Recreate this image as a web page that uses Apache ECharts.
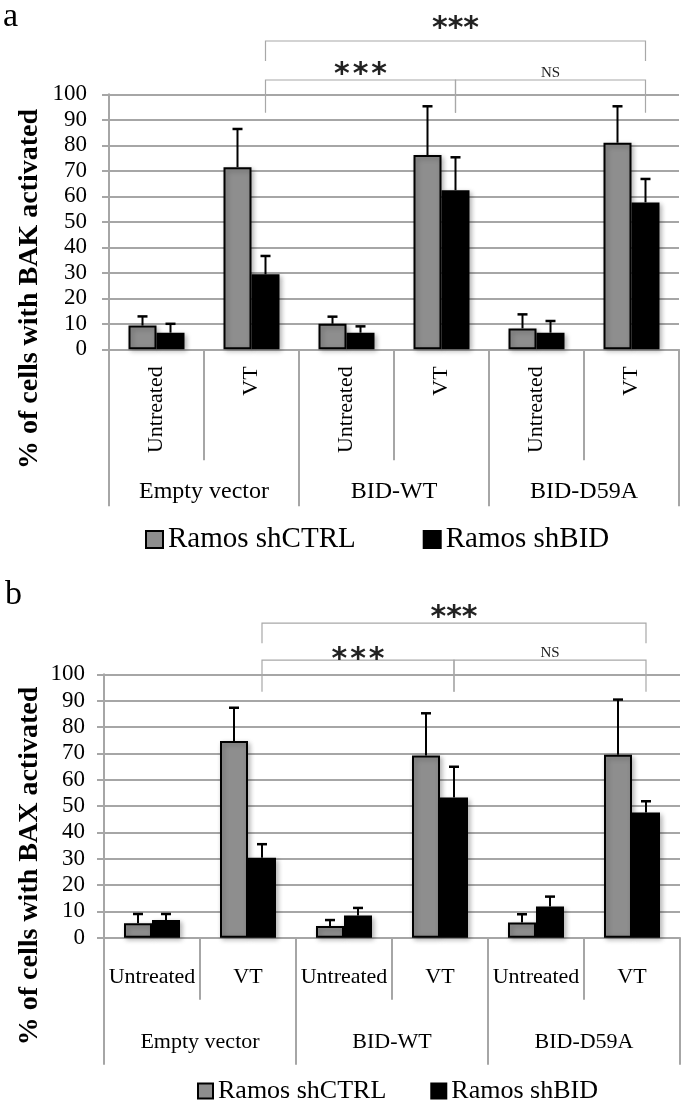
<!DOCTYPE html>
<html>
<head>
<meta charset="utf-8">
<script src="https://cdn.jsdelivr.net/npm/echarts@6/dist/echarts.min.js"></script>
<style>
html,body{margin:0;padding:0;background:#fff;}
#chart{width:685px;height:1103px;}
</style>
</head>
<body>
<div id="chart"></div>
<script>
// ---------- data ----------
const categories = ['Untreated', 'VT', 'Untreated', 'VT', 'Untreated', 'VT'];
const groups = ['Empty vector', 'BID-WT', 'BID-D59A'];
const seriesNames = ['Ramos shCTRL', 'Ramos shBID'];
const yTicks = [0, 100, 10]; // min, max, interval

// panel a: BAK
const bakCtrl    = [9.3, 71.4, 10.0, 76.2, 8.2, 81.0];
const bakCtrlErr = [3.6, 15.0, 2.8, 19.1, 5.5, 14.3];
const bakBid     = [6.5, 29.4, 6.5, 62.4, 6.5, 57.6];
const bakBidErr  = [3.5, 7.2, 2.5, 12.9, 4.6, 9.2];

// panel b: BAX
const baxCtrl    = [5.5, 74.7, 4.4, 69.2, 5.8, 69.5];
const baxCtrlErr = [3.5, 12.6, 2.3, 16.0, 3.1, 20.9];
const baxBid     = [6.7, 30.4, 8.4, 53.2, 11.8, 47.5];
const baxBidErr  = [2.3, 5.1, 2.9, 11.7, 3.8, 4.3];

// significance brackets: [fromCategory, toCategory, bracketY, dropY, labelY]
const bracketsA = [[1, 5, 120.9, 113.1, 128.1], [1, 3, 105.6, 92.8, 110.2], [3, 5, 105.6, 92.8, 108.5]];
const bracketsB = [[1, 5, 119.4, 111.8, 123.8], [1, 3, 105.4, 93.4, 108.0], [3, 5, 105.4, 93.4, 108.0]];
const bracketLabels = ['***', '*\u200A*\u200A*', 'NS'];

// ---------- styles ----------
const SERIF = '"Liberation Serif", "Times New Roman", serif';
const GRID_GRAY = '#a6a6a6';
const BAR_W = 28;
const CTRL_COLOR = '#8e8e8e';

const chart = echarts.init(document.getElementById('chart'));

function errRender(sign) {
  return function (params, api) {
    const base = api.coord([api.value(0), api.value(1)]);
    const top = api.coord([api.value(0), api.value(1) + api.value(2)]);
    const x = base[0] + sign * BAR_W / 2;
    return {
      type: 'group',
      children: [
        {type: 'line', shape: {x1: x, y1: base[1], x2: x, y2: top[1]}, style: {stroke: '#000', lineWidth: 2}},
        {type: 'line', shape: {x1: x - 5, y1: top[1], x2: x + 5, y2: top[1]}, style: {stroke: '#000', lineWidth: 2.5}}
      ]
    };
  };
}

function bracketRender(params, api) {
  const f = api.value(0), t = api.value(1), y = api.value(2), d = api.value(3), ly = api.value(4);
  const p1 = api.coord([f, y]), p2 = api.coord([t, y]);
  const q1 = api.coord([f, d]);
  const lab = api.coord([f, ly]);
  const x1 = p1[0] + BAR_W / 2, x2 = p2[0] + BAR_W / 2;
  const txt = bracketLabels[params.dataIndex];
  const isStar = txt.indexOf('*') >= 0;
  return {
    type: 'group',
    children: [
      {type: 'polyline', shape: {points: [[x1, q1[1]], [x1, p1[1]], [x2, p2[1]], [x2, q1[1]]]},
       style: {stroke: '#a8a8a8', lineWidth: 1.2, fill: null}},
      {type: 'text', x: (x1 + x2) / 2, y: lab[1] + (isStar ? 7 : 0),
       style: {text: txt, align: 'center', verticalAlign: 'middle',
               font: isStar ? 'bold 30px "DejaVu Sans", sans-serif' : '15px ' + SERIF, fill: '#222'}}
    ]
  };
}

function errData(vals, errs) { return vals.map((v, i) => [i, v, errs[i]]); }

const barStyle = (color) => ({
  color: color, borderColor: '#000', borderWidth: 2,
  shadowColor: 'rgba(0,0,0,0.28)', shadowBlur: 5, shadowOffsetX: 2, shadowOffsetY: 2
});

function innerX(gridIndex, rotate, margin, tickLen) {
  return {
    type: 'category', gridIndex: gridIndex, data: categories, position: 'bottom',
    axisLine: {show: true, lineStyle: {color: GRID_GRAY, width: 2}},
    axisTick: {show: true, interval: 0, length: tickLen, lineStyle: {color: GRID_GRAY, width: 2}},
    axisLabel: {interval: 0, rotate: rotate, margin: margin, fontFamily: SERIF, fontSize: 22, color: '#000'},
    splitLine: {show: false}
  };
}
function outerX(gridIndex, margin, tickLen, fs) {
  return {
    type: 'category', gridIndex: gridIndex, data: groups, position: 'bottom',
    axisLine: {show: false},
    axisTick: {show: true, interval: 0, length: tickLen, lineStyle: {color: GRID_GRAY, width: 2}},
    axisLabel: {interval: 0, margin: margin, fontFamily: SERIF, fontSize: fs, color: '#000'},
    splitLine: {show: false}
  };
}
function yAx(gridIndex, margin) {
  return {
    type: 'value', gridIndex: gridIndex, min: yTicks[0], max: yTicks[1], interval: yTicks[2],
    axisLine: {show: true, lineStyle: {color: GRID_GRAY, width: 2}},
    axisTick: {show: true, length: 7, lineStyle: {color: GRID_GRAY, width: 2}},
    splitLine: {show: true, lineStyle: {color: GRID_GRAY, width: 2}},
    axisLabel: {margin: margin, fontFamily: SERIF, fontSize: 23, color: '#000'}
  };
}

const option = {
  backgroundColor: '#fff',
  animation: false,
  grid: [
    {left: 109, right: 6, top: 94.3, height: 255},
    {left: 104, right: 5, top: 674.3, height: 263.4}
  ],
  xAxis: [
    innerX(0, 90, 17, 111),
    outerX(0, 130, 157, 24),
    innerX(1, 0, 29, 62),
    outerX(1, 94, 127, 22)
  ],
  yAxis: [yAx(0, 22), yAx(1, 19)],
  legend: [
    {left: 145, top: 525, padding: 0, itemWidth: 17, itemHeight: 17, itemGap: 67, icon: 'rect',
     data: seriesNames, textStyle: {fontFamily: SERIF, fontSize: 29, color: '#000'}},
    {left: 197, top: 1078, padding: 0, itemWidth: 15, itemHeight: 15, itemGap: 44, icon: 'rect',
     data: seriesNames, textStyle: {fontFamily: SERIF, fontSize: 26, color: '#000'}}
  ],
  series: [
    {name: seriesNames[0], type: 'bar', xAxisIndex: 0, yAxisIndex: 0, data: bakCtrl, barWidth: BAR_W, barGap: '0%', itemStyle: barStyle(CTRL_COLOR)},
    {name: seriesNames[1], type: 'bar', xAxisIndex: 0, yAxisIndex: 0, data: bakBid, barWidth: BAR_W, barGap: '0%', itemStyle: barStyle('#000')},
    {type: 'custom', xAxisIndex: 0, yAxisIndex: 0, data: errData(bakCtrl, bakCtrlErr), renderItem: errRender(-1), z: 5, silent: true},
    {type: 'custom', xAxisIndex: 0, yAxisIndex: 0, data: errData(bakBid, bakBidErr), renderItem: errRender(1), z: 5, silent: true},
    {type: 'custom', xAxisIndex: 0, yAxisIndex: 0, data: bracketsA, renderItem: bracketRender, clip: false, z: 5, silent: true},

    {name: seriesNames[0], type: 'bar', xAxisIndex: 2, yAxisIndex: 1, data: baxCtrl, barWidth: BAR_W, barGap: '0%', itemStyle: barStyle(CTRL_COLOR)},
    {name: seriesNames[1], type: 'bar', xAxisIndex: 2, yAxisIndex: 1, data: baxBid, barWidth: BAR_W, barGap: '0%', itemStyle: barStyle('#000')},
    {type: 'custom', xAxisIndex: 2, yAxisIndex: 1, data: errData(baxCtrl, baxCtrlErr), renderItem: errRender(-1), z: 5, silent: true},
    {type: 'custom', xAxisIndex: 2, yAxisIndex: 1, data: errData(baxBid, baxBidErr), renderItem: errRender(1), z: 5, silent: true},
    {type: 'custom', xAxisIndex: 2, yAxisIndex: 1, data: bracketsB, renderItem: bracketRender, clip: false, z: 5, silent: true}
  ],
  graphic: [
    {type: 'text', left: 3, top: 0, style: {text: 'a', font: '34px ' + SERIF, fill: '#000'}},
    {type: 'text', left: 5, top: 578, style: {text: 'b', font: '34px ' + SERIF, fill: '#000'}},
    {type: 'text', x: 30, y: 289, rotation: Math.PI / 2,
     style: {text: '% of cells with BAK activated', font: 'bold 28px ' + SERIF, align: 'center', verticalAlign: 'middle', fill: '#000'}},
    {type: 'text', x: 30, y: 866, rotation: Math.PI / 2,
     style: {text: '% of cells with BAX activated', font: 'bold 28px ' + SERIF, align: 'center', verticalAlign: 'middle', fill: '#000'}}
  ]
};
chart.setOption(option);
</script>
</body>
</html>
